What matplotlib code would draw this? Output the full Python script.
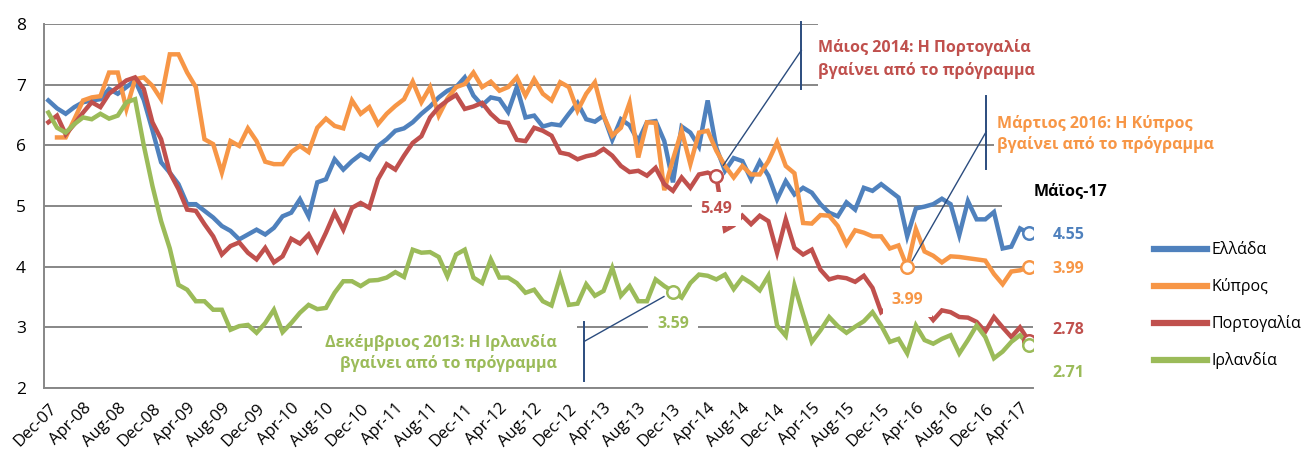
import numpy as np
import matplotlib
matplotlib.use("Agg")
import matplotlib.pyplot as plt
import matplotlib.transforms as mtransforms
from matplotlib.lines import Line2D
from matplotlib.patches import Rectangle

plt.rcParams['font.family'] = ['Open Sans', 'DejaVu Sans']

# Μηνιαίες αποδόσεις 10ετών ομολόγων (%), Dec-07 έως May-17
months = ['Dec', 'Jan', 'Feb', 'Mar', 'Apr', 'May', 'Jun', 'Jul', 'Aug', 'Sep', 'Oct', 'Nov']
dates = [f"{months[k % 12]}-{(7 + (k + 11) // 12):02d}" for k in range(114)]
tick_step = 4

greece = [6.74, 6.61, 6.52, 6.63, 6.71, 6.74, 6.76, 6.93, 6.85, 6.96,
          7.07, 6.75, 6.25, 5.72, 5.55, 5.36, 5.03, 5.03, 4.92, 4.81,
          4.67, 4.59, 4.45, 4.53, 4.61, 4.53, 4.64, 4.83, 4.89, 5.11,
          4.83, 5.39, 5.44, 5.77, 5.60, 5.74, 5.85, 5.77, 5.99, 6.10,
          6.24, 6.28, 6.38, 6.52, 6.64, 6.79, 6.90, 6.96, 7.12, 6.82,
          6.66, 6.79, 6.76, 6.55, 6.96, 6.46, 6.49, 6.31, 6.35, 6.33,
          6.52, 6.70, 6.43, 6.39, 6.49, 6.09, 6.43, 6.33, 6.07, 6.38,
          6.40, 6.07, 5.39, 6.31, 6.21, 5.98, 6.74, 5.96, 5.58, 5.79,
          5.74, 5.44, 5.73, 5.50, 5.11, 5.41, 5.19, 5.30, 5.22, 5.03,
          4.89, 4.83, 5.06, 4.94, 5.30, 5.25, 5.36, 5.25, 5.14, 4.50,
          4.96, 4.99, 5.03, 5.12, 5.03, 4.52, 5.08, 4.78, 4.78, 4.90,
          4.30, 4.33, 4.63, 4.55]

cyprus = [np.nan, 6.13, 6.13, 6.43, 6.74, 6.79, 6.81, 7.20, 7.20, 6.60,
          7.09, 7.12, 6.98, 6.76, 7.50, 7.50, 7.20, 6.96, 6.10, 6.02,
          5.55, 6.07, 5.99, 6.28, 6.07, 5.73, 5.69, 5.69, 5.89, 5.99,
          5.89, 6.29, 6.44, 6.32, 6.28, 6.74, 6.52, 6.63, 6.35, 6.52,
          6.65, 6.76, 7.05, 6.71, 6.96, 6.49, 6.77, 6.96, 7.01, 7.20,
          6.96, 7.05, 6.90, 6.96, 7.12, 6.82, 7.09, 6.85, 6.74, 7.04,
          6.96, 6.57, 6.85, 7.04, 6.49, 6.16, 6.29, 6.70, 5.80, 6.38,
          6.37, 5.26, 5.77, 6.24, 5.69, 6.21, 6.24, 5.91, 5.66, 5.47,
          5.66, 5.52, 5.52, 5.74, 6.05, 5.66, 5.54, 4.72, 4.71, 4.85,
          4.84, 4.67, 4.37, 4.60, 4.56, 4.50, 4.50, 4.30, 4.35, 3.99,
          4.62, 4.25, 4.18, 4.07, 4.17, 4.16, 4.14, 4.12, 4.10, 3.88,
          3.71, 3.92, 3.94, 3.99]

portugal = [6.38, 6.49, 6.18, 6.35, 6.54, 6.71, 6.63, 6.85, 6.96, 7.07,
            7.12, 6.93, 6.38, 6.10, 5.55, 5.28, 4.94, 4.92, 4.70, 4.50,
            4.20, 4.34, 4.40, 4.23, 4.12, 4.31, 4.07, 4.17, 4.46, 4.38,
            4.53, 4.26, 4.56, 4.89, 4.61, 4.97, 5.05, 4.97, 5.44, 5.69,
            5.60, 5.83, 6.04, 6.15, 6.46, 6.63, 6.74, 6.83, 6.60, 6.64,
            6.70, 6.52, 6.39, 6.37, 6.09, 6.07, 6.29, 6.24, 6.16, 5.88,
            5.85, 5.77, 5.82, 5.85, 5.94, 5.83, 5.66, 5.56, 5.58, 5.50,
            5.63, 5.36, 5.25, 5.47, 5.30, 5.52, 5.55, 5.49, 4.60, 4.68,
            4.84, 4.70, 4.84, 4.75, 4.23, 4.78, 4.31, 4.20, 4.28, 3.95,
            3.79, 3.83, 3.81, 3.75, 3.85, 3.65, 3.25, 3.35, 3.40, 3.30,
            3.35, 3.30, 3.12, 3.28, 3.25, 3.17, 3.16, 3.09, 2.93, 3.17,
            3.00, 2.84, 3.00, 2.78]

ireland = [6.54, 6.29, 6.21, 6.35, 6.46, 6.43, 6.52, 6.44, 6.49, 6.71,
           6.76, 6.00, 5.33, 4.75, 4.30, 3.70, 3.62, 3.43, 3.43, 3.29,
           3.29, 2.96, 3.02, 3.04, 2.91, 3.07, 3.29, 2.92, 3.07, 3.24,
           3.37, 3.30, 3.32, 3.57, 3.76, 3.76, 3.68, 3.77, 3.78, 3.82,
           3.91, 3.83, 4.28, 4.23, 4.24, 4.16, 3.84, 4.20, 4.28, 3.82,
           3.73, 4.12, 3.82, 3.82, 3.73, 3.57, 3.62, 3.43, 3.36, 3.84,
           3.37, 3.39, 3.71, 3.52, 3.60, 3.98, 3.52, 3.68, 3.43, 3.43,
           3.79, 3.68, 3.59, 3.49, 3.73, 3.87, 3.85, 3.79, 3.87, 3.63,
           3.82, 3.73, 3.61, 3.85, 3.03, 2.86, 3.69, 3.21, 2.76, 2.95,
           3.17, 3.02, 2.91, 3.01, 3.10, 3.25, 3.03, 2.76, 2.81, 2.57,
           3.03, 2.79, 2.73, 2.81, 2.87, 2.57, 2.79, 3.03, 2.84, 2.49,
           2.60, 2.76, 2.87, 2.71]

names = ['Ελλάδα', 'Κύπρος', 'Πορτογαλία', 'Ιρλανδία']
colors = ['#4F81BD', '#F79646', '#C0504D', '#9BBB59']
series = [greece, cyprus, portugal, ireland]

# έξοδοι από τα προγράμματα (δείκτης μήνα)
exit_ireland = dates.index('Dec-13')
exit_portugal = dates.index('May-14')
exit_cyprus = dates.index('Mar-16')
last = len(dates) - 1

W, H = 1307, 451
LEADER = '#2B4C7E'


def fx(px):
    return px / W


def fy(py):
    return 1 - py / H


fig = plt.figure(figsize=(W / 100, H / 100), dpi=100)
ax = fig.add_axes([fx(44), fy(388), (1033 - 44) / W, (388 - 24) / H])

x = np.arange(len(dates))
for vals, col, name in zip(series, colors, names):
    ax.plot(x, vals, color=col, lw=3.2, label=name, zorder=3,
            solid_joinstyle='miter')

ax.set_xlim(-0.5, len(dates) - 0.5)
ax.set_ylim(2, 8)
ax.set_yticks(range(2, 9))
ax.set_xticks(x[::tick_step])
ax.set_xticklabels(dates[::tick_step], rotation=45, ha='right',
                   rotation_mode='anchor', fontsize=12)
ax.tick_params(axis='y', length=0, pad=13, labelsize=12.5)
ax.tick_params(axis='x', length=0, pad=9)
ax.yaxis.grid(True, color='#878787', lw=1.4)
ax.set_axisbelow(True)
for s in ['top', 'right']:
    ax.spines[s].set_visible(False)
for s in ['left', 'bottom']:
    ax.spines[s].set_color('#878787')
    ax.spines[s].set_linewidth(1.4)


# λευκά πλαίσια πίσω από τα σχόλια (κόβουν τις γραμμές πλέγματος)
def white_box(x0, y0, x1, y1):
    fig.add_artist(Rectangle((fx(x0), fy(y1)), fx(x1) - fx(x0), fy(y0) - fy(y1),
                             facecolor='white', edgecolor='none', zorder=1.5))


white_box(818, 18, 1040, 90)
white_box(994, 140, 1040, 152)
white_box(1002, 200, 1040, 212)
white_box(302, 320, 577, 336)

# σημεία εξόδου και τελευταίες τιμές
marks = [(greece, colors[0], [last]),
         (cyprus, colors[1], [exit_cyprus, last]),
         (portugal, colors[2], [exit_portugal, last]),
         (ireland, colors[3], [exit_ireland, last])]
for vals, col, idx in marks:
    ax.plot(idx, [vals[k] for k in idx], 'o', ms=9, mfc='white', mec=col,
            mew=1.8, zorder=4, ls='none')

# ετικέτες στα σημεία εξόδου
for vals, col, k in [(portugal, colors[2], exit_portugal),
                     (ireland, colors[3], exit_ireland),
                     (cyprus, colors[1], exit_cyprus)]:
    ax.annotate(f"{vals[k]:.2f}", xy=(k, vals[k]), xytext=(0, -23.5),
                textcoords='offset points', ha='center', va='center',
                color=col, fontsize=11.5, fontweight='bold', zorder=6,
                bbox=dict(boxstyle='square,pad=0.55', fc='white', ec='none'))

# ετικέτες τελευταίου μήνα
last_offsets = [(17, -1.5), (17, -1), (17, 8), (17, -20)]
for vals, col, off in zip(series, colors, last_offsets):
    ax.annotate(f"{vals[last]:.2f}", xy=(last, vals[last]), xytext=off,
                textcoords='offset points', ha='left', va='center',
                color=col, fontsize=11.5, fontweight='bold', zorder=6)
fig.text(fx(1034), fy(191), 'Μάϊος-17', ha='left', va='center',
         fontsize=11.5, fontweight='bold', color='black')


# γραμμές οδηγοί
def leader(k, v, diag, bar):
    fig.canvas.draw()
    px, py = ax.transData.transform((k, v))
    ident = mtransforms.IdentityTransform()
    (a, b), (c, d) = diag
    fig.add_artist(Line2D([px + a, px + c], [py - b, py - d], transform=ident,
                          color=LEADER, lw=1.0, zorder=7))
    bx, b0, b1 = bar
    fig.add_artist(Line2D([px + bx, px + bx], [py - b0, py - b1], transform=ident,
                          color=LEADER, lw=1.4, zorder=7))


leader(exit_ireland, ireland[exit_ireland], ((-9, 5), (-89, 50)), (-89, 30, 89))
leader(exit_portugal, portugal[exit_portugal], ((7, -11), (85, -126)), (85, -154, -87))
leader(exit_cyprus, cyprus[exit_cyprus], ((5, -6.6), (79, -135.6)), (79, -171.6, -98.6))

# σχόλια
fig.text(fx(818), fy(59), 'Μάιος 2014: Η Πορτογαλία\nβγαίνει από το πρόγραμμα',
         ha='left', va='center', color=colors[2], fontsize=11.5,
         fontweight='bold', linespacing=1.45, zorder=8)
fig.text(fx(997), fy(134), 'Μάρτιος 2016: Η Κύπρος\nβγαίνει από το πρόγραμμα',
         ha='left', va='center', color=colors[1], fontsize=11.5,
         fontweight='bold', linespacing=1.3, zorder=8)
fig.text(fx(557), fy(353), 'Δεκέμβριος 2013: Η Ιρλανδία\nβγαίνει από το πρόγραμμα',
         ha='right', va='center', color=colors[3], fontsize=11.5,
         fontweight='bold', linespacing=1.3, zorder=8, multialignment='right')

leg = fig.legend(handles=ax.get_lines()[:4], labels=names, loc='upper left',
                 bbox_to_anchor=(fx(1140), fy(228)), frameon=False,
                 fontsize=11.5, handlelength=3.3, handletextpad=0.3,
                 labelspacing=1.25)
for h in leg.get_lines():
    h.set_linewidth(4.5)

fig.savefig('out.png', dpi=100)
